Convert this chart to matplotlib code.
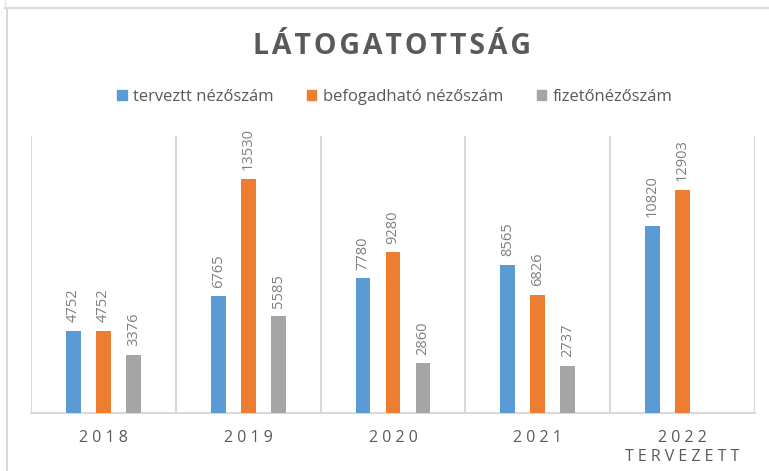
import matplotlib.pyplot as plt
import numpy as np
from matplotlib.lines import Line2D
from matplotlib.patches import Patch

plt.rcParams['font.family'] = ['Open Sans', 'DejaVu Sans']

years = ['2 0 1 8', '2 0 1 9', '2 0 2 0', '2 0 2 1', '2 0 2 2\nT E R V E Z E T T']
tervezett = [4752, 6765, 7780, 8565, 10820]
befogadhato = [4752, 13530, 9280, 6826, 12903]
fizeto = [3376, 5585, 2860, 2737, np.nan]

series = [
    ('terveztt nézőszám', tervezett, '#5B9BD5'),
    ('befogadható nézőszám', befogadhato, '#ED7D31'),
    ('fizetőnézőszám', fizeto, '#A5A5A5'),
]

fig = plt.figure(figsize=(7.69, 4.71), dpi=100)
ax = fig.add_axes([31/769, 58/471, 724/769, 277/471])

x = np.arange(len(years))
offs = [-0.207, 0, 0.207]
for (name, vals, col), off in zip(series, offs):
    for xi, v in zip(x, vals):
        if np.isnan(v):
            continue
        ax.bar(xi + off, v, width=0.103, color=col, zorder=3)
        ax.annotate(str(int(v)), (xi + off, v), xytext=(0, 6), textcoords='offset points',
                    rotation=90, ha='center', va='bottom', fontsize=10.5, color='#7F7F7F')

ax.set_xlim(-0.5, len(years) - 0.5)
ax.set_ylim(0, 16000)
ax.set_xticks(x)
ax.set_xticklabels(years, fontsize=11.5, color='#595959', linespacing=1.25)
ax.tick_params(axis='x', length=0, pad=12)
ax.set_yticks([])
ax.set_xticks(np.arange(-0.5, len(years)), minor=True)
ax.tick_params(axis='x', which='minor', length=0)
ax.grid(axis='x', which='minor', color='#D9D9D9', lw=1.5, zorder=0)
for s in ['top', 'left', 'right']:
    ax.spines[s].set_visible(False)
ax.spines['bottom'].set_color('#D9D9D9')
ax.spines['bottom'].set_linewidth(1.5)

title = '\u200a'.join('LÁTOGATOTTSÁG')
fig.text(392/769, 1 - 47/471, title, ha='center', va='center',
         fontsize=20.5, fontweight='bold', color='#595959')

handles = [Patch(color=c, label=n) for n, _, c in series]
fig.legend(handles=handles, loc='center', bbox_to_anchor=(395/769, 1 - 97/471), ncol=3,
           frameon=False, fontsize=12, handlelength=0.55, handleheight=0.55,
           handletextpad=0.4, columnspacing=2.0, labelcolor='#595959')

# outer frame of the screenshot
fig.add_artist(Line2D([5/769, 1], [1 - 8/471] * 2, color='#D9D9D9', lw=1.5))
fig.add_artist(Line2D([6.5/769] * 2, [0, 1 - 8/471], color='#D9D9D9', lw=1.5))
fig.add_artist(Line2D([5/769] * 2, [1 - 7/471, 1], color='#E6E6E6', lw=1))

fig.savefig('out.png', dpi=100)
